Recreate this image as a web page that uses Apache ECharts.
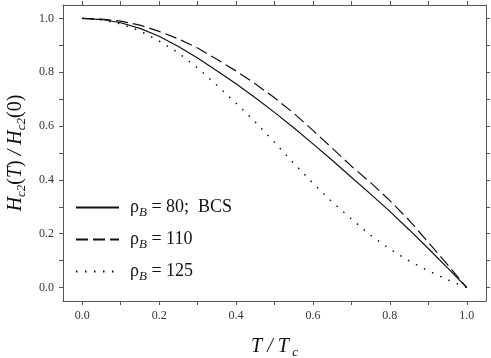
<!DOCTYPE html>
<html>
<head>
<meta charset="utf-8">
<script src="https://cdn.jsdelivr.net/npm/echarts@6/dist/echarts.min.js"></script>
<style>
html, body { margin: 0; padding: 0; background: #fff; }
#main { width: 491px; height: 358px; }
</style>
</head>
<body>
<div id="main"></div>
<script>
// reduced temperature T/Tc
var tVals = [0, 0.05, 0.1, 0.15, 0.2, 0.25, 0.3, 0.35, 0.4, 0.45, 0.5,
             0.55, 0.6, 0.65, 0.7, 0.75, 0.8, 0.85, 0.9, 0.95, 1.0];
// Hc2(T)/Hc2(0), rho_B = 80 (BCS)
var hBCS = [1.0, 0.996, 0.984, 0.963, 0.934, 0.896, 0.853, 0.806, 0.757, 0.705, 0.651,
            0.594, 0.534, 0.473, 0.410, 0.347, 0.283, 0.215, 0.145, 0.073, 0];
// rho_B = 110
var h110 = [1.0, 0.998, 0.990, 0.975, 0.952, 0.924, 0.890, 0.848, 0.805, 0.757, 0.705,
            0.648, 0.584, 0.518, 0.451, 0.390, 0.323, 0.250, 0.168, 0.085, 0];
// rho_B = 125
var h125 = [1.0, 0.995, 0.980, 0.954, 0.916, 0.872, 0.816, 0.752, 0.685, 0.615, 0.540,
            0.462, 0.388, 0.318, 0.255, 0.194, 0.143, 0.099, 0.062, 0.029, 0];

var xLabels = [0, 0.2, 0.4, 0.6, 0.8, 1.0];
var xTicks = [0, 0.1, 0.2, 0.3, 0.4, 0.5, 0.6, 0.7, 0.8, 0.9, 1.0];
var yLabels = [0, 0.2, 0.4, 0.6, 0.8, 1.0];
var yTicks = [0, 0.1, 0.2, 0.3, 0.4, 0.5, 0.6, 0.7, 0.8, 0.9, 1.0];

var serif = 'Liberation Serif, DejaVu Serif, serif';
var axisCol = '#555';

function pairs(ys) {
    return tVals.map(function (t, i) { return [t, ys[i]]; });
}

function makeAxis(pos, labels, ticks, show) {
    return {
        type: 'value',
        position: pos,
        min: -0.05,
        max: 1.05,
        splitLine: { show: false },
        axisLine: { show: true, onZero: false, lineStyle: { color: axisCol, width: 1 } },
        axisTick: { show: true, inside: false, length: 4, customValues: ticks,
                    lineStyle: { color: axisCol } },
        axisLabel: { show: show, customValues: labels, margin: 9,
                     fontFamily: serif, fontSize: 12, color: '#333',
                     formatter: function (v) { return v.toFixed(1); } }
    };
}

var nameRich = {
    i: { fontFamily: serif, fontSize: 20, fontStyle: 'italic', color: '#111', lineHeight: 26 },
    r: { fontFamily: serif, fontSize: 20, color: '#111', lineHeight: 26 },
    s: { fontFamily: serif, fontSize: 13, fontStyle: 'italic', color: '#111',
         lineHeight: 26, padding: [12, 0, 0, 0] }
};

var xBottom = makeAxis('bottom', xLabels, xTicks, true);
xBottom.name = '{i|T / T}{s| c}';
xBottom.nameLocation = 'middle';
xBottom.nameGap = 33;
xBottom.nameTextStyle = { rich: nameRich };
var xTop = makeAxis('top', xLabels, xTicks, false);

var yLeft = makeAxis('left', yLabels, yTicks, true);
yLeft.name = '{i|H}{s|c2}{r|(}{i|T}{r|)}{i| / H}{s|c2}{r|(0)}';
yLeft.nameLocation = 'middle';
yLeft.nameGap = 24;
yLeft.nameTextStyle = { rich: nameRich };
var yRight = makeAxis('right', yLabels, yTicks, false);

var legRich = {
    g: { fontFamily: serif, fontSize: 18, color: '#111', lineHeight: 22, padding: [0, 0, 0, 6] },
    b: { fontFamily: serif, fontSize: 13, fontStyle: 'italic', color: '#111',
         lineHeight: 22, padding: [10, 0, 0, 0] },
    t: { fontFamily: serif, fontSize: 18, color: '#111', lineHeight: 22 }
};

var myChart = echarts.init(document.getElementById('main'));
var option = {
    animation: false,
    backgroundColor: '#fff',
    grid: { left: 63, right: 5, top: 5, bottom: 57, outerBoundsMode: 'none' },
    xAxis: [xBottom, xTop],
    yAxis: [yLeft, yRight],
    legend: {
        orient: 'vertical',
        left: 70,
        top: 191,
        itemWidth: 43,
        itemHeight: 22,
        itemGap: 9,
        itemStyle: { opacity: 0 },
        data: ['BCS', '110', '125'],
        formatter: function (name) {
            if (name === 'BCS') return '{g|ρ}{b|B}{t| = 80;  BCS}';
            return '{g|ρ}{b|B}{t| = ' + name + '}';
        },
        textStyle: { rich: legRich }
    },
    series: [
        {
            name: 'BCS', type: 'line', data: pairs(hBCS),
            showSymbol: false, symbol: 'none',
            itemStyle: { color: '#111' },
            lineStyle: { color: '#111', width: 1.2, type: 'solid' }
        },
        {
            name: '110', type: 'line', data: pairs(h110),
            showSymbol: false, symbol: 'none',
            itemStyle: { color: '#111' },
            lineStyle: { color: '#111', width: 1.2, type: [12, 5] }
        },
        {
            name: '125', type: 'line', data: pairs(h125),
            showSymbol: false, symbol: 'none',
            itemStyle: { color: '#111' },
            lineStyle: { color: '#111', width: 1.5, type: [1.5, 7.5] }
        }
    ]
};
myChart.setOption(option);
</script>
</body>
</html>
